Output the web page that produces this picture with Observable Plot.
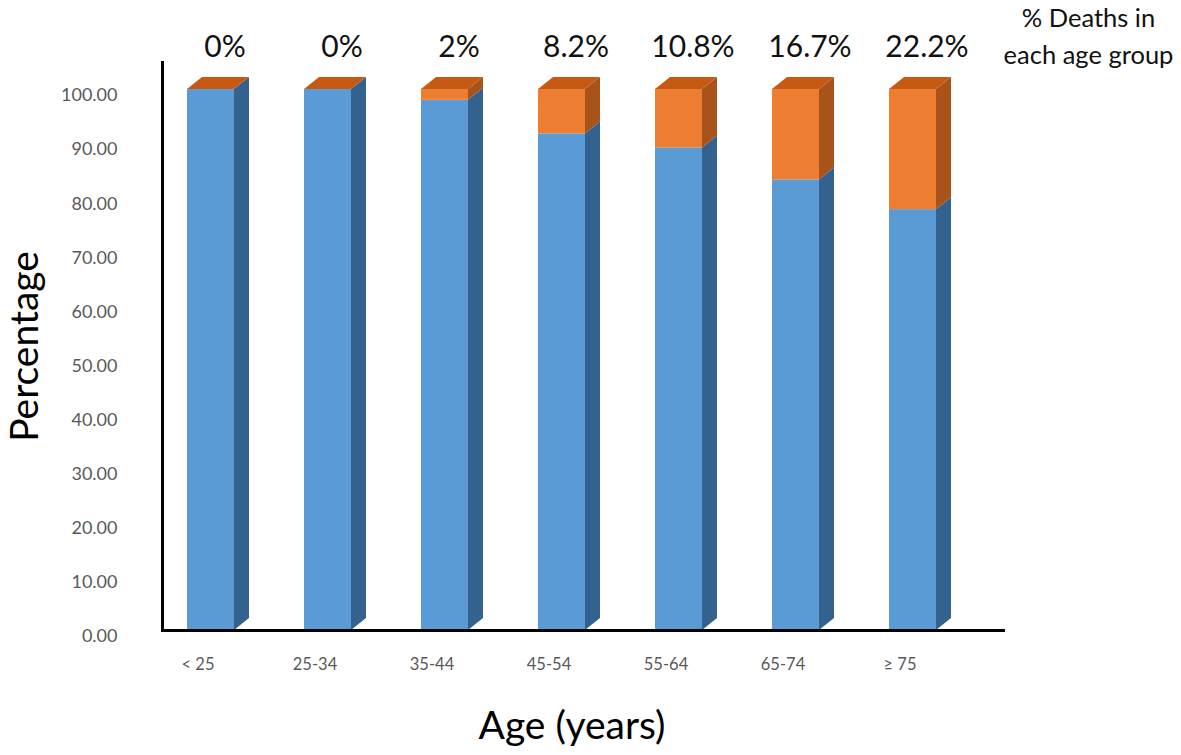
<!DOCTYPE html>
<html>
<head>
<meta charset="utf-8">
<script src="https://cdn.jsdelivr.net/npm/d3@7"></script>
<script src="https://cdn.jsdelivr.net/npm/@observablehq/plot@0.6"></script>
<style>
  html, body { margin: 0; padding: 0; background: #fff; }
</style>
</head>
<body>
<div id="chart"></div>
<script>
// ---- data ----
const ages = ["< 25", "25-34", "35-44", "45-54", "55-64", "65-74", "≥ 75"];
const survivedPct = [100, 100, 98, 91.8, 89.2, 83.3, 77.8];
const deathPct = [0, 0, 2, 8.2, 10.8, 16.7, 22.2];
const deathLabels = ["0%", "0%", "2%", "8.2%", "10.8%", "16.7%", "22.2%"];
const yTicks = [0, 10, 20, 30, 40, 50, 60, 70, 80, 90, 100];

// ---- styles ----
const BLUE = "#5B9BD5", BLUE_SIDE = "#33628E";
const ORANGE = "#ED7D31", ORANGE_SIDE = "#A8531A", TOP = "#C65A12";
const DX = 15, DY = 12; // 3D depth offset in pixels

const rows = [];
ages.forEach((a, i) => {
  rows.push({age: a, status: "Survived", value: survivedPct[i]});
  rows.push({age: a, status: "Died", value: deathPct[i]});
});

// side and top faces of the 3D columns, drawn through the plot's scales
function depthFaces(index, scales) {
  const x = scales.x, y = scales.y;
  const bw = x.bandwidth();
  const g = d3.create("svg:g");
  ages.forEach((a, i) => {
    const x0 = x(a), x1 = x0 + bw;
    const yb = y(0), ys = y(survivedPct[i]), yt = y(survivedPct[i] + deathPct[i]);
    g.append("path")
      .attr("d", `M${x1},${yb}L${x1 + DX},${yb - DY}L${x1 + DX},${ys - DY}L${x1},${ys}Z`)
      .attr("fill", BLUE_SIDE);
    if (ys - yt > 0.01) {
      g.append("path")
        .attr("d", `M${x1},${ys}L${x1 + DX},${ys - DY}L${x1 + DX},${yt - DY}L${x1},${yt}Z`)
        .attr("fill", ORANGE_SIDE);
    }
    g.append("path")
      .attr("d", `M${x0},${yt}L${x0 + DX},${yt - DY}L${x1 + DX},${yt - DY}L${x1},${yt}Z`)
      .attr("fill", TOP);
  });
  return g.node();
}

const chart = Plot.plot({
  width: 1181,
  height: 755,
  marginLeft: 162,
  marginRight: 176,
  marginTop: 62,
  marginBottom: 125,
  style: {fontFamily: "Lato, 'Open Sans', sans-serif", background: "#fff"},
  x: {type: "band", domain: ages, paddingInner: 0.6, paddingOuter: 0.384, align: 0.265, axis: null},
  y: {domain: [0, 105], axis: null},
  color: {domain: ["Survived", "Died"], range: [BLUE, ORANGE]},
  marks: [
    Plot.barY(rows, {x: "age", y: "value", fill: "status", inset: 0}),
    depthFaces,
    // axis lines
    Plot.ruleY([0], {stroke: "#000", strokeWidth: 3}),
    Plot.frame({anchor: "left", stroke: "#000", strokeWidth: 3}),
    // y tick labels
    Plot.text(yTicks, {y: d => d, text: d => d.toFixed(2), frameAnchor: "left", textAnchor: "end",
      dx: -45, dy: 6, fontSize: 18, fill: "#595959"}),
    // x tick labels
    Plot.text(ages, {x: d => d, text: d => d, frameAnchor: "bottom", dx: -13, dy: 39,
      fontSize: 16.5, fill: "#595959"}),
    // percentages of deaths above bars
    Plot.text(ages, {x: d => d, text: (d, i) => deathLabels[i], frameAnchor: "top", dx: 14, dy: -27,
      fontSize: 30, fill: "#111"}),
    Plot.text(["% Deaths in\neach age group"], {frameAnchor: "top-right", dx: 83, dy: -29,
      textAnchor: "middle", lineAnchor: "middle", lineHeight: 1.45, fontSize: 25.5, fill: "#111"}),
    // axis titles
    Plot.text(["Percentage"], {frameAnchor: "left", dx: -137, textAnchor: "middle", rotate: -90,
      fontSize: 39, fill: "#000"}),
    Plot.text(["Age (years)"], {frameAnchor: "bottom", dx: -12, dy: 108, textAnchor: "middle",
      fontSize: 39, fill: "#000"})
  ]
});
document.getElementById("chart").appendChild(chart);
</script>
</body>
</html>
